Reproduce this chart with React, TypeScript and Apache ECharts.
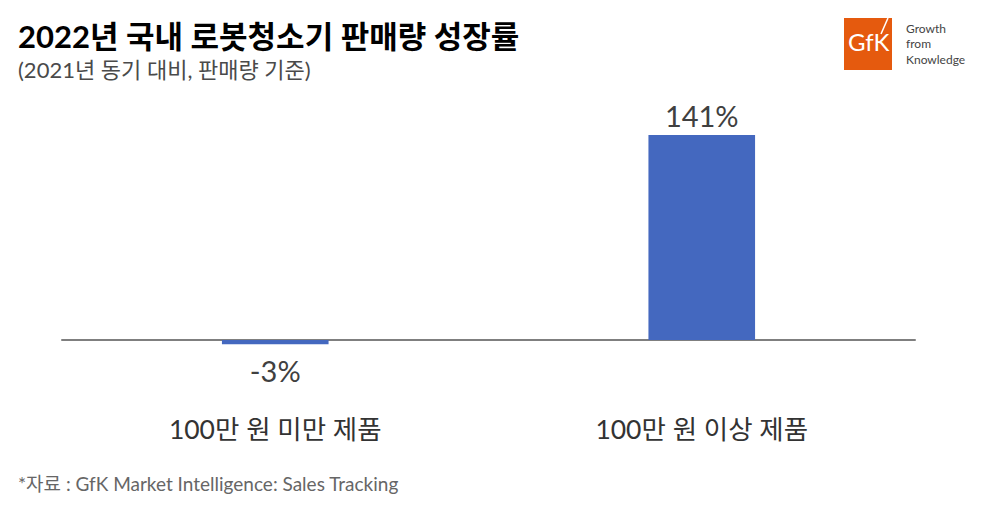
import React, { useEffect, useRef } from "react";
import * as echarts from "echarts";

const categories = ["100만 원 미만 제품", "100만 원 이상 제품"];
const growth = [-3, 141];
const titleText = "2022년 국내 로봇청소기 판매량 성장률";
const subtitleText = "(2021년 동기 대비, 판매량 기준)";
const sourceText = "*자료 : GfK Market Intelligence: Sales Tracking";
const logoLines = ["Growth", "from", "Knowledge"];

const FONT = "Lato, 'Noto Sans CJK KR', sans-serif";

export default function App() {
  const ref = useRef<HTMLDivElement>(null);
  useEffect(() => {
    if (!ref.current) return;
    const chart = echarts.init(ref.current, null, { renderer: "svg" });
    chart.setOption({
      animation: false,
      backgroundColor: "#ffffff",
      textStyle: { fontFamily: FONT },
      grid: { left: 62, right: 69, top: 122, bottom: 138 },
      xAxis: {
        type: "category",
        data: categories,
        axisLine: { onZero: true, lineStyle: { color: "#7f7f7f", width: 2 } },
        axisTick: { show: false },
        axisLabel: { margin: 47, fontSize: 26.5, color: "#333333", fontFamily: FONT },
      },
      yAxis: {
        type: "value",
        min: -20,
        max: 150,
        show: false,
        splitLine: { show: false },
      },
      series: [
        {
          type: "bar",
          barWidth: "25%",
          itemStyle: { color: "#4468bf" },
          data: growth.map((v) => ({
            value: v,
            label: {
              show: true,
              position: v < 0 ? "bottom" : "top",
              distance: v < 0 ? 12 : 5,
              formatter: "{c}%",
              fontSize: 29,
              color: "#404040",
              fontFamily: FONT,
            },
          })),
        },
      ],
      graphic: [
        {
          type: "text",
          left: 18,
          top: 20,
          style: { text: titleText, fontSize: 31, fontWeight: "bold", fill: "#000000", fontFamily: FONT },
        },
        {
          type: "text",
          left: 18,
          top: 58,
          style: { text: subtitleText, fontSize: 22, fill: "#4a4a4a", fontFamily: FONT },
        },
        {
          type: "text",
          left: 18,
          top: 474,
          style: { text: sourceText, fontSize: 19, fill: "#666666", fontFamily: FONT },
        },
        {
          type: "rect",
          shape: { x: 844, y: 18, width: 48, height: 52 },
          style: { fill: "#e55a0e" },
        },
        {
          type: "text",
          x: 848,
          y: 29,
          style: { text: "GfK", fontSize: 24, fill: "#ffffff", fontFamily: FONT },
        },
        {
          type: "line",
          shape: { x1: 881, y1: 34, x2: 888, y2: 18 },
          style: { stroke: "#ffffff", lineWidth: 1.5 },
        },
        ...logoLines.map((t, i) => ({
          type: "text",
          x: 906,
          y: 22 + i * 15.5,
          style: { text: t, fontSize: 12, fill: "#444444", fontFamily: FONT },
        })),
      ],
    });
    return () => chart.dispose();
  }, []);
  return <div ref={ref} style={{ width: 984, height: 507, position: "absolute", left: 0, top: 0 }} />;
}
